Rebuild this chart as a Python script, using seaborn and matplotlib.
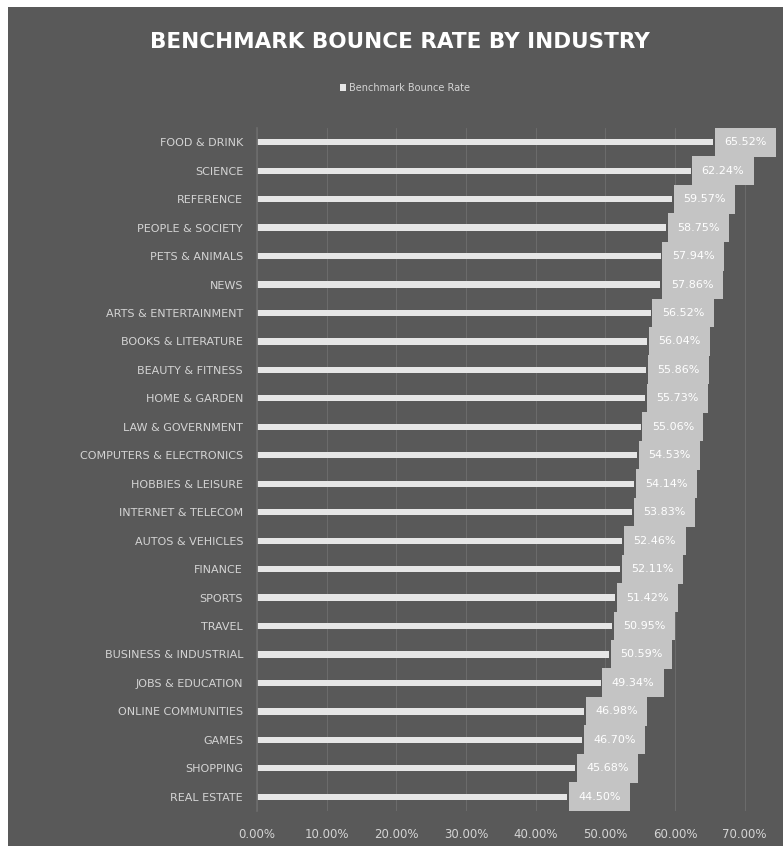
import matplotlib
matplotlib.use("Agg")
import matplotlib.pyplot as plt
from matplotlib.patches import Rectangle
from matplotlib.ticker import FuncFormatter
import seaborn as sns
import pandas as pd

categories = [
    "FOOD & DRINK", "SCIENCE", "REFERENCE", "PEOPLE & SOCIETY", "PETS & ANIMALS",
    "NEWS", "ARTS & ENTERTAINMENT", "BOOKS & LITERATURE", "BEAUTY & FITNESS",
    "HOME & GARDEN", "LAW & GOVERNMENT", "COMPUTERS & ELECTRONICS",
    "HOBBIES & LEISURE", "INTERNET & TELECOM", "AUTOS & VEHICLES", "FINANCE",
    "SPORTS", "TRAVEL", "BUSINESS & INDUSTRIAL", "JOBS & EDUCATION",
    "ONLINE COMMUNITIES", "GAMES", "SHOPPING", "REAL ESTATE",
]
values = [
    65.52, 62.24, 59.57, 58.75, 57.94, 57.86, 56.52, 56.04, 55.86, 55.73,
    55.06, 54.53, 54.14, 53.83, 52.46, 52.11, 51.42, 50.95, 50.59, 49.34,
    46.98, 46.70, 45.68, 44.50,
]
series_name = "Benchmark Bounce Rate"
x_ticks = [0, 10, 20, 30, 40, 50, 60, 70]

BG = "#595959"
BAR = "#e6e6e6"
TXT = "#d4d4d4"

sns.set_theme(style="dark")
plt.rcParams["font.family"] = ["DejaVu Sans"]

df = pd.DataFrame({"Industry": categories, "Rate": values})

W, H = 783, 852
fig = plt.figure(figsize=(W / 100, H / 100), dpi=100)
fig.patch.set_facecolor("white")
fig.add_artist(Rectangle((8 / W, 6 / H), (W - 8) / W, (846 - 7) / H,
                         transform=fig.transFigure, facecolor=BG,
                         edgecolor="none", zorder=-10))

ax = fig.add_axes([257 / W, 41 / H, 1 - 257 / W, 683 / H])
ax.set_facecolor(BG)
sns.barplot(data=df, y="Industry", x="Rate", orient="h", color=BAR,
            saturation=1, width=0.22, linewidth=0, ax=ax, label=series_name)

ax.set_xlim(0, 75.5)
ax.set_xticks(x_ticks)
ax.xaxis.set_major_formatter(FuncFormatter(lambda v, p: f"{v:.2f}%"))
ax.grid(axis="x", color="#6b6b6b", linewidth=0.8)
ax.grid(axis="y", visible=False)
ax.set_axisbelow(True)
for s in ["top", "right", "bottom"]:
    ax.spines[s].set_visible(False)
ax.spines["left"].set_color("#6b6b6b")
ax.set_xlabel("")
ax.set_ylabel("")
ax.tick_params(axis="y", labelsize=8, labelcolor=TXT, pad=10, length=0)
ax.tick_params(axis="x", labelsize=8.5, labelcolor=TXT, pad=12, length=0)

for cont in ax.containers:
    ax.bar_label(cont, labels=[f"{v:.2f}%" for v in values], padding=8,
                 color="white", fontsize=8,
                 bbox=dict(boxstyle="square,pad=0.85", facecolor="#c4c4c4",
                           edgecolor="none"))

leg = ax.get_legend()
if leg is not None:
    leg.remove()
fig.legend(*ax.get_legend_handles_labels(), loc="center",
           bbox_to_anchor=(405 / W, 1 - 88 / H), frameon=False, fontsize=7,
           labelcolor=TXT, handlelength=0.7, handleheight=0.7,
           handletextpad=0.3)

fig.text(400 / W, 1 - 42 / H, "BENCHMARK BOUNCE RATE BY INDUSTRY",
         ha="center", va="center", fontsize=15.5, fontweight="bold",
         color="white")

fig.savefig("out.png", dpi=100, facecolor=fig.get_facecolor())
